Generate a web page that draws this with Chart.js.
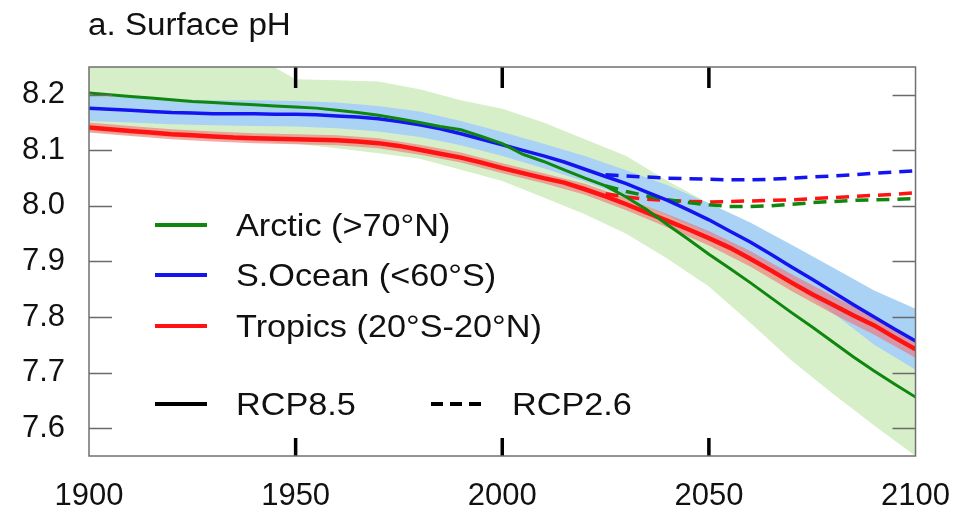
<!DOCTYPE html>
<html>
<head>
<meta charset="utf-8">
<script src="https://cdn.jsdelivr.net/npm/chart.js@4.4.1/dist/chart.umd.min.js"></script>
<style>
  body { margin: 0; background: #fff; }
  canvas { display: block; }
</style>
</head>
<body>
<canvas id="phChart" width="972" height="514"></canvas>
<script>
// RCP8.5 central lines, every 5 years
const years = [1900,1905,1910,1915,1920,1925,1930,1935,1940,1945,1950,1955,1960,1965,1970,1975,1980,1985,1990,1995,
  2000,2005,2010,2015,2020,2025,2030,2035,2040,2045,2050,2055,2060,2065,2070,2075,2080,2085,2090,2095,2100];
const arctic85 = [8.203,8.200,8.197,8.194,8.191,8.188,8.186,8.184,8.182,8.180,8.178,8.176,8.172,8.168,8.163,8.157,8.150,8.143,8.137,8.125,
  8.112,8.093,8.080,8.065,8.050,8.036,8.016,7.993,7.966,7.940,7.913,7.888,7.862,7.835,7.808,7.782,7.755,7.728,7.703,7.679,7.656];
const socean85 = [8.176,8.174,8.172,8.170,8.168,8.167,8.166,8.166,8.166,8.165,8.165,8.164,8.162,8.160,8.157,8.152,8.146,8.139,8.130,8.120,
  8.110,8.100,8.090,8.079,8.066,8.053,8.040,8.025,8.010,7.993,7.975,7.955,7.935,7.913,7.890,7.868,7.845,7.822,7.800,7.778,7.757];
const tropics85 = [8.141,8.138,8.135,8.132,8.129,8.127,8.125,8.123,8.122,8.121,8.120,8.119,8.118,8.116,8.113,8.108,8.101,8.094,8.087,8.078,
  8.068,8.059,8.050,8.042,8.030,8.017,8.003,7.988,7.973,7.958,7.942,7.925,7.905,7.884,7.862,7.841,7.822,7.803,7.785,7.763,7.742];

// model spread, every 10 years
const bandYears = [1900,1910,1920,1930,1940,1950,1960,1970,1980,1990,2000,2010,2020,2030,2040,2050,2060,2070,2080,2090,2100];
const arcticHi = [8.27,8.27,8.27,8.27,8.27,8.228,8.226,8.224,8.210,8.190,8.175,8.150,8.120,8.090,8.045,8.005,7.965,7.925,7.885,7.845,7.805];
const arcticLo = [8.133,8.128,8.124,8.120,8.116,8.112,8.104,8.095,8.085,8.065,8.045,8.015,7.985,7.950,7.905,7.855,7.790,7.722,7.662,7.605,7.550];
const soceanHi = [8.198,8.195,8.192,8.190,8.190,8.189,8.186,8.180,8.170,8.153,8.133,8.112,8.090,8.064,8.037,8.005,7.970,7.930,7.889,7.848,7.815];
const soceanLo = [8.153,8.150,8.147,8.145,8.144,8.143,8.140,8.134,8.124,8.109,8.090,8.068,8.044,8.016,7.983,7.948,7.905,7.860,7.808,7.750,7.705];
const tropicsHi = [8.150,8.144,8.138,8.134,8.131,8.129,8.127,8.122,8.110,8.096,8.077,8.059,8.040,8.014,7.985,7.955,7.919,7.877,7.838,7.800,7.757];
const tropicsLo = [8.132,8.126,8.120,8.116,8.113,8.111,8.109,8.104,8.092,8.078,8.059,8.041,8.020,7.992,7.961,7.929,7.891,7.847,7.806,7.768,7.727];

// RCP2.6 lines
const rcp26Years = [2025,2030,2035,2040,2045,2050,2055,2060,2065,2070,2075,2080,2085,2090,2095,2100];
const arctic26 = [8.036,8.026,8.018,8.011,8.006,8.002,7.999,7.999,8.000,8.003,8.006,8.008,8.010,8.011,8.012,8.013];
const socean26 = [8.056,8.054,8.052,8.050,8.049,8.048,8.047,8.047,8.048,8.050,8.052,8.054,8.056,8.059,8.061,8.063];
const tropics26 = [8.022,8.016,8.012,8.010,8.008,8.007,8.008,8.009,8.010,8.011,8.013,8.015,8.017,8.019,8.021,8.024];

const xTicks = [1900, 1950, 2000, 2050, 2100];
const yTicks = [7.6, 7.7, 7.8, 7.9, 8.0, 8.1, 8.2];

const regionLabels = ['Arctic (>70°N)', 'S.Ocean (<60°S)', 'Tropics (20°S-20°N)'];
const scenarioLabels = ['RCP8.5', 'RCP2.6'];

const GREEN = '#0f870f', BLUE = '#1414f0', RED = '#ff1212';
const FONT = '"Liberation Sans", Arial, sans-serif';

const pts = (xs, ys) => xs.map((x, i) => ({ x: x, y: ys[i] }));

function band(hi, lo, color, order) {
  return [
    { data: pts(bandYears, hi), fill: '+1', backgroundColor: color, borderWidth: 0, pointRadius: 0, order: order },
    { data: pts(bandYears, lo), fill: false, borderWidth: 0, pointRadius: 0, order: order }
  ];
}
function line(xs, ys, color, width, dash) {
  return { data: pts(xs, ys), borderColor: color, borderWidth: width, borderDash: dash || [],
    pointRadius: 0, fill: false, order: 0 };
}

// ticks pointing inward, frame box, title and legend
const decor = {
  id: 'decor',
  afterDatasetsDraw(chart) {
    const { ctx, chartArea: a, scales: { x, y } } = chart;
    ctx.save();
    ctx.strokeStyle = '#6a6a6a';
    ctx.lineWidth = 1.3;
    yTicks.forEach(v => {
      const py = Math.round(y.getPixelForValue(v)) + 0.5;
      ctx.beginPath();
      ctx.moveTo(a.left, py); ctx.lineTo(a.left + 23, py);
      ctx.moveTo(a.right - 23, py); ctx.lineTo(a.right, py);
      ctx.stroke();
    });
    ctx.strokeStyle = '#000';
    ctx.lineWidth = 3.5;
    xTicks.slice(1, -1).forEach(v => {
      const px = x.getPixelForValue(v);
      ctx.beginPath();
      ctx.moveTo(px, a.top); ctx.lineTo(px, a.top + 21);
      ctx.moveTo(px, a.bottom - 18); ctx.lineTo(px, a.bottom);
      ctx.stroke();
    });
    ctx.strokeStyle = '#707070';
    ctx.lineWidth = 1.5;
    ctx.strokeRect(a.left, a.top, a.right - a.left, a.bottom - a.top);

    function text(str, tx, ty, size) {
      ctx.save();
      ctx.translate(tx, ty);
      ctx.scale(1.07, 1);
      ctx.font = size + 'px ' + FONT;
      ctx.fillStyle = '#111';
      ctx.textBaseline = 'alphabetic';
      ctx.fillText(str, 0, 0);
      ctx.restore();
    }
    function key(x0, yy, color, dash) {
      ctx.strokeStyle = color;
      ctx.lineWidth = 4;
      ctx.setLineDash(dash || []);
      ctx.beginPath();
      ctx.moveTo(x0, yy); ctx.lineTo(x0 + 52, yy);
      ctx.stroke();
      ctx.setLineDash([]);
    }
    text('a. Surface pH', 88, 35, 31);

    const colors = [GREEN, BLUE, RED];
    const rowsY = [225, 275, 326];
    regionLabels.forEach((lab, i) => {
      key(155, rowsY[i], colors[i]);
      text(lab, 236, rowsY[i] + 11, 32);
    });
    key(155, 404, '#000');
    text(scenarioLabels[0], 236, 415, 32);
    key(431, 404, '#000', [12, 7]);
    text(scenarioLabels[1], 512, 415, 32);
    ctx.restore();
  }
};

const chart = new Chart(document.getElementById('phChart'), {
  type: 'line',
  data: {
    datasets: [
      line(years, arctic85, GREEN, 3),
      line(years, socean85, BLUE, 3.5),
      line(years, tropics85, RED, 4.5),
      line(rcp26Years, arctic26, GREEN, 3.5, [13, 8]),
      line(rcp26Years, socean26, BLUE, 3.5, [13, 8]),
      line(rcp26Years, tropics26, RED, 3.5, [13, 8]),
      ...band(tropicsHi, tropicsLo, 'rgba(242,112,112,0.6)', 1),
      ...band(soceanHi, soceanLo, '#aad2f4', 2),
      ...band(arcticHi, arcticLo, '#d7efc8', 3)
    ]
  },
  options: {
    responsive: false,
    animation: false,
    layout: { padding: { top: 67, right: 51, bottom: 0, left: 0 } },
    plugins: { legend: { display: false }, tooltip: { enabled: false }, title: { display: false } },
    elements: { line: { tension: 0 } },
    scales: {
      x: {
        type: 'linear', min: 1900, max: 2100,
        afterBuildTicks: s => { s.ticks = xTicks.map(v => ({ value: v })); },
        afterFit: s => { s.height = 58; },
        grid: { display: false, drawTicks: false },
        border: { display: false },
        ticks: { color: '#111', font: { family: FONT, size: 31 }, padding: 22, maxRotation: 0,
          callback: v => String(v) }
      },
      y: {
        type: 'linear', min: 7.55, max: 8.25,
        afterBuildTicks: s => { s.ticks = yTicks.map(v => ({ value: v })); },
        afterFit: s => { s.width = 89; },
        grid: { display: false, drawTicks: false },
        border: { display: false },
        ticks: { color: '#111', font: { family: FONT, size: 31 }, padding: 24,
          callback: v => v.toFixed(1) }
      }
    }
  },
  plugins: [decor]
});
</script>
</body>
</html>
